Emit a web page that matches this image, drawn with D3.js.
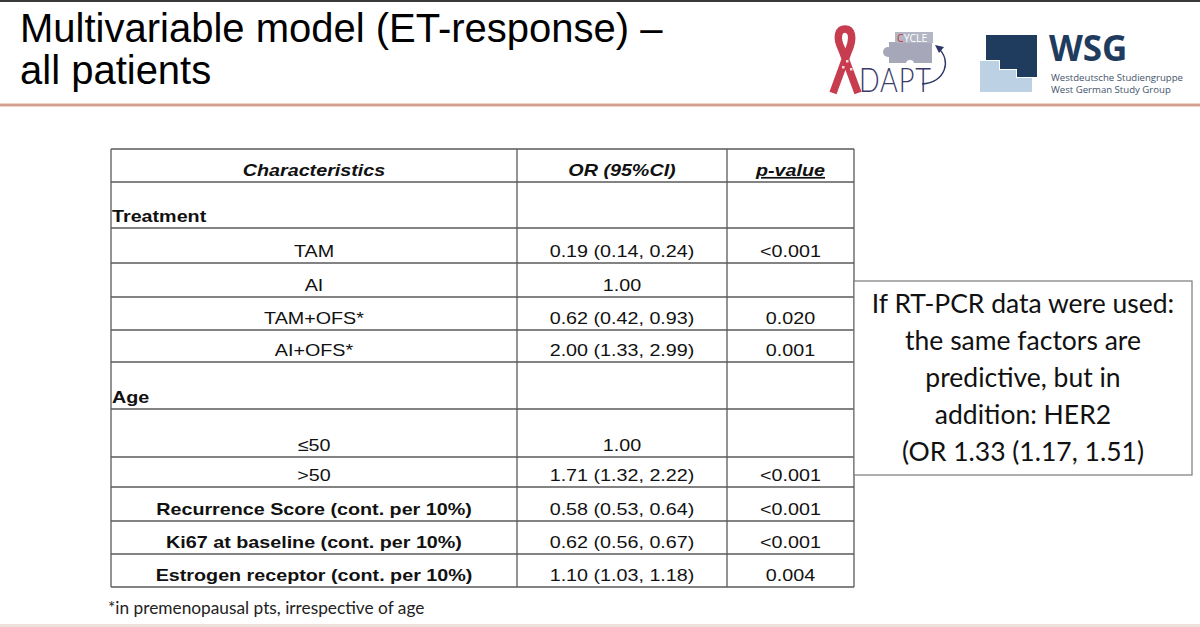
<!DOCTYPE html>
<html>
<head>
<meta charset="utf-8">
<script src="https://cdn.jsdelivr.net/npm/d3@7"></script>
<style>
  body { margin: 0; background: #fff; }
  svg { display: block; }
</style>
</head>
<body>
<svg width="1200" height="627"></svg>
<script>
// table content
var headers = ['Characteristics', 'OR (95%CI)', 'p-value'];
var characteristics = ['Treatment', 'TAM', 'AI', 'TAM+OFS*', 'AI+OFS*', 'Age', '\u226450', '>50',
  'Recurrence Score (cont. per 10%)', 'Ki67 at baseline (cont. per 10%)', 'Estrogen receptor (cont. per 10%)'];
var oddsRatio = [null, 0.19, 1.00, 0.62, 2.00, null, 1.00, 1.71, 0.58, 0.62, 1.10];
var ciLow     = [null, 0.14, null, 0.42, 1.33, null, null, 1.32, 0.53, 0.56, 1.03];
var ciHigh    = [null, 0.24, null, 0.93, 2.99, null, null, 2.22, 0.64, 0.67, 1.18];
var pValues   = ['', '<0.001', '', '0.020', '0.001', '', '', '<0.001', '<0.001', '<0.001', '0.004'];
var rowKind   = ['section', 'level', 'level', 'level', 'level', 'section', 'level', 'level', 'bold', 'bold', 'bold'];
var sideNote  = ['If RT-PCR data were used:', 'the same factors are', 'predictive, but in', 'addition: HER2', '(OR 1.33 (1.17, 1.51)'];

// layout
var rowHeights = [33, 46, 35, 34, 33, 32, 47, 48, 30, 34, 33, 33];
var tableTop = 149, colEdges = [111, 517, 727, 854];
var stretch = 1.16; // slide text is a bit wider than the font

var svg = d3.select('svg');
var fmt = d3.format('.2f');

var rowBottoms = Array.from(d3.cumsum(rowHeights), function(h) { return tableTop + h; });
var rowLines = [tableTop].concat(rowBottoms);

// slide frame
svg.append('rect').attr('x', 0).attr('y', 0).attr('width', 1200).attr('height', 2).attr('fill', '#3a3a3a');
svg.append('rect').attr('x', 0).attr('y', 103).attr('width', 1200).attr('height', 4).attr('fill', '#f3d3c6');
svg.append('line').attr('x1', 0).attr('x2', 1200).attr('y1', 105).attr('y2', 105)
  .attr('stroke', '#c68f7f').attr('stroke-width', 1.6);
svg.append('rect').attr('x', 0).attr('y', 624).attr('width', 1200).attr('height', 3).attr('fill', '#eee1d9');

// title
var title = svg.append('g').attr('font-family', 'Liberation Sans, Arial, sans-serif').attr('font-size', 40).attr('fill', '#000');
title.append('text').attr('x', 20).attr('y', 42).text('Multivariable model (ET-response) \u2013');
title.append('text').attr('x', 20).attr('y', 84).text('all patients');

// ADAPT logo
var adapt = svg.append('g');
adapt.append('path')
  .attr('d', 'M833,93 L848,52 C855,36 851,29 845,29 C839,29 835,36 842,50 L858,93')
  .attr('fill', 'none').attr('stroke', '#c83c50').attr('stroke-width', 7.5);
[[846, 60], [850, 68], [842, 66]].forEach(function(p) {
  adapt.append('rect').attr('x', p[0]).attr('y', p[1]).attr('width', 2.5).attr('height', 2.5).attr('fill', '#f4d6da');
});
adapt.append('text').attr('transform', 'translate(859,92) scale(0.8,1)')
  .attr('font-family', 'Lato, sans-serif').attr('font-weight', 300).attr('font-size', 34)
  .attr('fill', '#3b3b6b').attr('letter-spacing', 1).text('DAPT');
adapt.append('rect').attr('x', 889).attr('y', 42).attr('width', 43).attr('height', 21).attr('fill', '#a6a8b9');
adapt.append('circle').attr('cx', 888).attr('cy', 52).attr('r', 5).attr('fill', '#a6a8b9');
adapt.append('circle').attr('cx', 910).attr('cy', 64).attr('r', 4).attr('fill', '#fff');
adapt.append('rect').attr('x', 895).attr('y', 32).attr('width', 38).attr('height', 11).attr('fill', '#b4b6c5');
var cyc = adapt.append('text').attr('x', 897).attr('y', 42).attr('font-family', 'Open Sans, sans-serif')
  .attr('font-size', 10.5).attr('fill', '#fff');
cyc.append('tspan').attr('fill', '#c0392b').text('C');
cyc.append('tspan').text('YCLE');
adapt.append('path').attr('d', 'M922,84 C946,82 952,60 938,48')
  .attr('fill', 'none').attr('stroke', '#2d3568').attr('stroke-width', 1.4);
adapt.append('path').attr('d', 'M935,45 L944,47 L939,53 Z').attr('fill', '#2d3568');

// WSG logo
var wsg = svg.append('g');
wsg.append('path').attr('d', 'M986,35 H1037 V77 H1017 V69 H1000 V60 H986 Z').attr('fill', '#1f3c5e');
wsg.append('path').attr('d', 'M980,61 H999 V70 H1016 V78 H1032 V92 H980 Z').attr('fill', '#bcd2e4');
wsg.append('text').attr('x', 1049).attr('y', 61).attr('font-family', 'Open Sans, sans-serif')
  .attr('font-weight', 700).attr('font-size', 35).attr('fill', '#1f3c5e').text('WSG');
wsg.append('text').attr('x', 1051).attr('y', 81).attr('font-family', 'Open Sans, sans-serif')
  .attr('font-size', 9.6).attr('fill', '#44546b').text('Westdeutsche Studiengruppe');
wsg.append('text').attr('x', 1051).attr('y', 93).attr('font-family', 'Open Sans, sans-serif')
  .attr('font-size', 9.6).attr('fill', '#44546b').text('West German Study Group');

// table grid
var grid = svg.append('g').attr('stroke', '#5a5a5a').attr('stroke-width', 1.3);
var tableBottom = rowLines[rowLines.length - 1];
grid.selectAll('line.h')
  .data(rowLines)
  .enter().append('line')
    .attr('class', 'h')
    .attr('x1', colEdges[0]).attr('x2', colEdges[3])
    .attr('y1', function(d) { return d; }).attr('y2', function(d) { return d; });
grid.selectAll('line.v')
  .data(colEdges)
  .enter().append('line')
    .attr('class', 'v')
    .attr('x1', function(d) { return d; }).attr('x2', function(d) { return d; })
    .attr('y1', tableTop).attr('y2', tableBottom);

var colCenter = function(i) { return (colEdges[i] + colEdges[i + 1]) / 2; };
var cellText = svg.append('g').attr('font-family', 'Liberation Sans, Arial, sans-serif')
  .attr('font-size', 17).attr('fill', '#111');

// header
cellText.selectAll('text.head')
  .data(headers)
  .enter().append('text')
    .attr('class', 'head')
    .attr('transform', function(d, i) { return 'translate(' + colCenter(i) + ',' + (rowBottoms[0] - 6) + ') scale(' + stretch + ',1)'; })
    .attr('text-anchor', 'middle').attr('font-weight', 700).attr('font-style', 'italic')
    .style('text-decoration', function(d, i) { return i === 2 ? 'underline' : null; })
    .text(function(d) { return d; });

// body rows
var rows = characteristics.map(function(c, i) {
  return {
    label: c, kind: rowKind[i],
    or: oddsRatio[i] == null ? '' : fmt(oddsRatio[i]) + (ciLow[i] == null ? '' : ' (' + fmt(ciLow[i]) + ', ' + fmt(ciHigh[i]) + ')'),
    p: pValues[i],
    base: rowBottoms[i + 1] - 6
  };
});

cellText.selectAll('text.label')
  .data(rows)
  .enter().append('text')
    .attr('class', 'label')
    .attr('transform', function(d) {
      var x = d.kind === 'section' ? colEdges[0] + 1 : colCenter(0);
      return 'translate(' + x + ',' + d.base + ') scale(' + stretch + ',1)';
    })
    .attr('text-anchor', function(d) { return d.kind === 'section' ? 'start' : 'middle'; })
    .attr('font-weight', function(d) { return d.kind === 'level' ? 400 : 700; })
    .text(function(d) { return d.label; });

cellText.selectAll('text.or')
  .data(rows)
  .enter().append('text')
    .attr('class', 'or')
    .attr('transform', function(d) { return 'translate(' + colCenter(1) + ',' + d.base + ') scale(' + stretch + ',1)'; })
    .attr('text-anchor', 'middle')
    .text(function(d) { return d.or; });

cellText.selectAll('text.p')
  .data(rows)
  .enter().append('text')
    .attr('class', 'p')
    .attr('transform', function(d) { return 'translate(' + colCenter(2) + ',' + d.base + ') scale(' + stretch + ',1)'; })
    .attr('text-anchor', 'middle')
    .text(function(d) { return d.p; });

// side note box
svg.append('rect').attr('x', 854).attr('y', 281).attr('width', 338).attr('height', 194)
  .attr('fill', '#fff').attr('stroke', '#7a7a7a').attr('stroke-width', 1.2);
svg.append('g').attr('font-family', 'Lato, sans-serif').attr('font-size', 26.5).attr('fill', '#111')
  .selectAll('text')
  .data(sideNote)
  .enter().append('text')
    .attr('x', 1023).attr('y', function(d, i) { return 313 + i * 37; })
    .attr('text-anchor', 'middle')
    .text(function(d) { return d; });

// footnote
svg.append('text').attr('x', 108).attr('y', 614)
  .attr('font-family', 'Lato, sans-serif').attr('font-size', 17.3).attr('fill', '#222')
  .text('*in premenopausal pts, irrespective of age');
</script>
</body>
</html>
